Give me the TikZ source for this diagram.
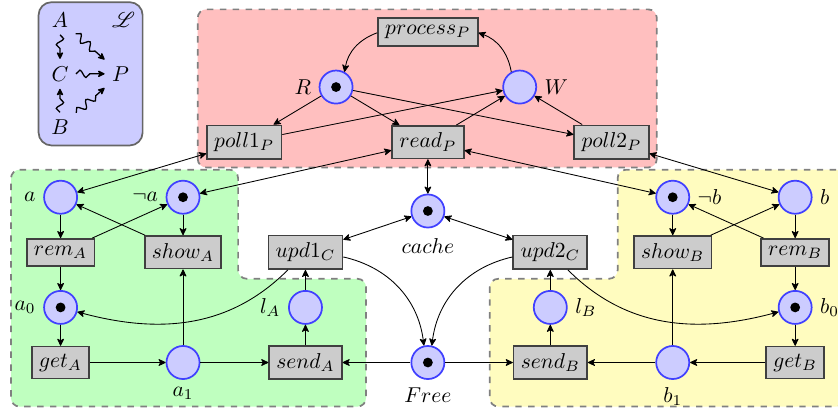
\documentclass[tikz,border=0pt]{standalone}
\usepackage{mathrsfs}
\usetikzlibrary{arrows.meta,decorations.pathmorphing}

\begin{document}
\begin{tikzpicture}[y=0.9cm, >={Stealth[round,length=3.8pt,width=3.6pt,inset=1pt]},
  place/.style={circle, thick, draw=blue!75, fill=blue!20, minimum size=5.4mm, inner sep=0pt},
  trans/.style={rectangle, thick, draw=black!75, fill=black!20},
  region/.style={draw=black!50, thick, dashed, rounded corners=4pt},
  leads/.style={->, semithick, decorate, decoration={snake, amplitude=0.6mm, segment length=2mm, post length=1.5mm}}]
\useasboundingbox (-6.99,-0.94) rectangle (6.70,6.58);

% regions
\draw[region, fill=red!25] (-3.76,3.54) rectangle (3.74,6.41);
\draw[region, fill=green!25] (-6.81,3.5) -- (-3.1,3.5) -- (-3.1,1.52) -- (-1.01,1.52) -- (-1.01,-0.8) -- (-6.81,-0.8) -- cycle;
\draw[region, fill=yellow!25] (6.81,3.5) -- (3.1,3.5) -- (3.1,1.52) -- (1.01,1.52) -- (1.01,-0.8) -- (6.81,-0.8) -- cycle;

% legend
\draw[draw=black!60, thick, fill=blue!20, rounded corners=6pt] (-6.36,3.94) rectangle (-4.66,6.54);
\node (lA) at (-6.01,6.22) {$A$};
\node (lL) at (-4.97,6.22) {$\mathscr{L}$};
\node (lC) at (-6.01,5.24) {$C$};
\node (lP) at (-5.02,5.24) {$P$};
\node (lB) at (-6.01,4.27) {$B$};
\draw[leads] (lA) -- (lC);
\draw[leads] (lA) -- (lP);
\draw[leads] (lC) -- (lP);
\draw[leads] (lB) -- (lC);
\draw[leads] (lB) -- (lP);

% process P
\node[trans] (process) at (0,6) {$process_P$};
\node[place, label=left:$R$] (R) at (-1.5,5) {};
\node[place, label=right:$W$] (W) at (1.5,5) {};
\node[trans] (poll1) at (-3,4) {$poll1_P$};
\node[trans] (read) at (0,4) {$read_P$};
\node[trans] (poll2) at (3,4) {$poll2_P$};

% cache C
\node[place, label={[label distance=1pt]below:$cache$}] (cache) at (0,2.75) {};
\node[trans] (upd1) at (-2,2) {$upd1_C$};
\node[trans] (upd2) at (2,2) {$upd2_C$};
\node[place, label=below:$Free$] (free) at (0,0) {};

% A
\node[place, label=left:$a$] (a) at (-6,3) {};
\node[place, label=left:$\neg a$] (na) at (-4,3) {};
\node[trans] (remA) at (-6,2) {$rem_A$};
\node[trans] (showA) at (-4,2) {$show_A$};
\node[place, label=left:$a_0$] (a0) at (-6,1) {};
\node[place, label=left:$l_A$] (lpA) at (-2,1) {};
\node[trans] (getA) at (-6,0) {$get_A$};
\node[place, label=below:$a_1$] (a1) at (-4,0) {};
\node[trans] (sendA) at (-2,0) {$send_A$};

% B
\node[place, label=right:$\neg b$] (nb) at (4,3) {};
\node[place, label=right:$b$] (b) at (6,3) {};
\node[trans] (showB) at (4,2) {$show_B$};
\node[trans] (remB) at (6,2) {$rem_B$};
\node[place, label=right:$l_B$] (lpB) at (2,1) {};
\node[place, label=right:$b_0$] (b0) at (6,1) {};
\node[trans] (sendB) at (2,0) {$send_B$};
\node[place, label=below:$b_1$] (b1) at (4,0) {};
\node[trans] (getB) at (6,0) {$get_B$};

% tokens
\foreach \p in {R,cache,free,na,a0,nb,b0}
  \fill (\p) circle (0.8mm);

% arcs in P
\draw[->] (process) to[bend right=30] (R);
\draw[->] (W) to[bend right=30] (process);
\draw[->] (R) -- (poll1);
\draw[->] (R) -- (read);
\draw[->] (R) -- (poll2);
\draw[->] (poll1) -- (W);
\draw[->] (read) -- (W);
\draw[->] (poll2) -- (W);

% read arcs
\draw[<->] (poll1) -- (a);
\draw[<->] (read) -- (na);
\draw[<->] (read) -- (nb);
\draw[<->] (poll2) -- (b);
\draw[<->] (read) -- (cache);
\draw[<->] (cache) -- (upd1);
\draw[<->] (cache) -- (upd2);

% arcs in C
\draw[->] (upd1) to[bend left=35] (free);
\draw[->] (upd2) to[bend right=35] (free);
\draw[->] (upd1) to[out=-135, in=-15] (a0);
\draw[->] (upd2) to[out=-45, in=-165] (b0);
\draw[->] (free) -- (sendA);
\draw[->] (free) -- (sendB);

% arcs in A
\draw[->] (a) -- (remA);
\draw[->] (remA) -- (a0);
\draw[->] (a0) -- (getA);
\draw[->] (getA) -- (a1);
\draw[->] (a1) -- (sendA);
\draw[->] (a1) -- (showA);
\draw[->] (na) -- (showA);
\draw[->] (remA) -- (na);
\draw[->] (showA) -- (a);
\draw[->] (sendA) -- (lpA);
\draw[->] (lpA) -- (upd1);

% arcs in B
\draw[->] (b) -- (remB);
\draw[->] (remB) -- (b0);
\draw[->] (b0) -- (getB);
\draw[->] (getB) -- (b1);
\draw[->] (b1) -- (sendB);
\draw[->] (b1) -- (showB);
\draw[->] (nb) -- (showB);
\draw[->] (remB) -- (nb);
\draw[->] (showB) -- (b);
\draw[->] (sendB) -- (lpB);
\draw[->] (lpB) -- (upd2);
\end{tikzpicture}
\end{document}
